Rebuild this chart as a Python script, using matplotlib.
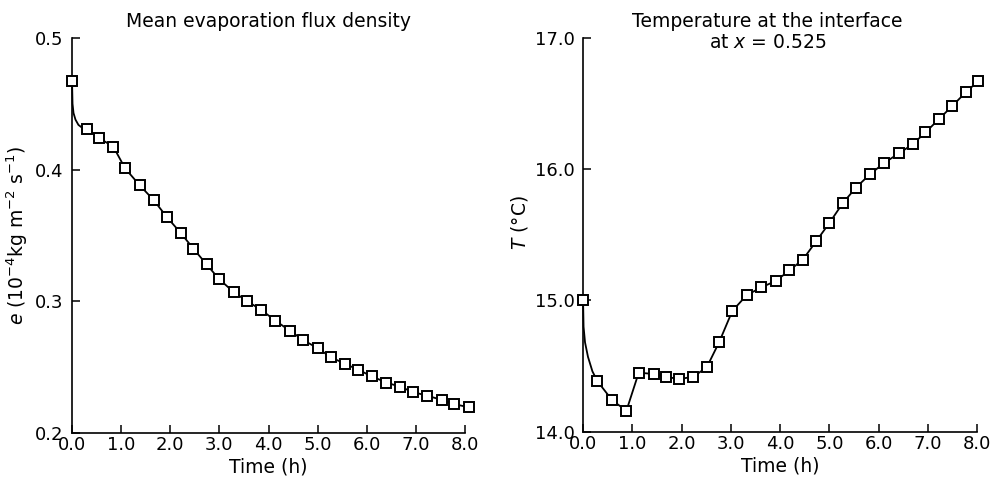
import matplotlib
matplotlib.use('Agg')
import matplotlib.pyplot as plt

plt.rcParams['font.family'] = 'DejaVu Sans'
plt.rcParams['mathtext.fontset'] = 'dejavusans'

# --- datos ---
# marcadores de flujo medio de evaporación
t_e = [0.0, 0.31, 0.55, 0.84, 1.08, 1.38, 1.66, 1.93, 2.21, 2.47, 2.74, 2.99, 3.29, 3.57,
       3.85, 4.14, 4.44, 4.71, 5.00, 5.27, 5.56, 5.83, 6.10, 6.40, 6.67, 6.95, 7.22, 7.53,
       7.78, 8.07]
e_val = [0.467, 0.431, 0.424, 0.4175, 0.401, 0.388, 0.377, 0.364, 0.352, 0.340, 0.328, 0.317,
         0.307, 0.300, 0.2935, 0.2853, 0.2775, 0.2705, 0.2644, 0.2575, 0.2525, 0.248, 0.243,
         0.2383, 0.2352, 0.231, 0.2284, 0.2251, 0.2219, 0.2196]
# tramo inicial de la curva (sin marcadores)
t_e_ini = [0.0, 0.01, 0.03, 0.07, 0.13, 0.2]
e_ini = [0.467, 0.450, 0.443, 0.438, 0.434, 0.432]

# marcadores de temperatura en la interfaz
t_T = [0.0, 0.29, 0.59, 0.88, 1.13, 1.43, 1.68, 1.95, 2.24, 2.51, 2.76, 3.03, 3.32, 3.62,
       3.92, 4.19, 4.46, 4.73, 5.00, 5.27, 5.54, 5.82, 6.12, 6.41, 6.69, 6.95, 7.22, 7.49,
       7.78, 8.02]
T_val = [15.0, 14.386, 14.24, 14.16, 14.45, 14.44, 14.42, 14.40, 14.42, 14.49, 14.68, 14.92,
         15.04, 15.10, 15.15, 15.23, 15.31, 15.45, 15.59, 15.74, 15.86, 15.96, 16.05, 16.12,
         16.19, 16.28, 16.38, 16.48, 16.59, 16.67]
t_T_ini = [0.0, 0.01, 0.04, 0.1, 0.19]
T_ini = [15.0, 14.80, 14.68, 14.57, 14.46]

x_ticks = [0, 1, 2, 3, 4, 5, 6, 7, 8]
x_labels = ['0.0', '1.0', '2.0', '3.0', '4.0', '5.0', '6.0', '7.0', '8.0']
e_ticks = [0.2, 0.3, 0.4, 0.5]
e_labels = ['0.2', '0.3', '0.4', '0.5']
T_ticks = [14.0, 15.0, 16.0, 17.0]
T_labels = ['14.0', '15.0', '16.0', '17.0']

FS_TICK = 13
FS = 13.5

def estilo(ax):
    for s in ['top', 'right']:
        ax.spines[s].set_visible(False)
    for s in ['left', 'bottom']:
        ax.spines[s].set_linewidth(1.2)
    ax.tick_params(direction='in', length=6, width=1.1, labelsize=FS_TICK)
    ax.tick_params(axis='x', pad=2)
    ax.tick_params(axis='y', pad=6)
    ax.set_xlim(0, 8.0)
    ax.set_xticks(x_ticks)
    ax.set_xticklabels(x_labels)
    ax.set_xlabel('Time (h)', fontsize=FS, labelpad=3)

def curva(ax, t_ini, y_ini, t, y):
    ax.plot(t_ini + t[1:], y_ini + y[1:], color='black', lw=1.3, zorder=2, clip_on=False)
    ax.plot(t, y, ls='none', marker='s', ms=6.5, mfc='white', mec='black', mew=1.4,
            zorder=3, clip_on=False)

fig = plt.figure(figsize=(9.95, 4.84), dpi=100)
ax1 = fig.add_axes([0.0724, 0.1054, 0.395, 0.8161])
ax2 = fig.add_axes([0.586, 0.108, 0.396, 0.8135])

curva(ax1, t_e_ini, e_ini, t_e, e_val)
estilo(ax1)
ax1.set_ylim(0.2, 0.5)
ax1.set_yticks(e_ticks)
ax1.set_yticklabels(e_labels)
ax1.set_ylabel(r'$e$ (10$^{-4}$kg m$^{-2}$ s$^{-1}$)', fontsize=FS, labelpad=4)
ax1.set_title('Mean evaporation flux density', fontsize=FS, pad=8)

curva(ax2, t_T_ini, T_ini, t_T, T_val)
estilo(ax2)
ax2.set_ylim(14.0, 17.0)
ax2.set_yticks(T_ticks)
ax2.set_yticklabels(T_labels)
ax2.set_ylabel(r'$T$ (°C)', fontsize=FS)
ax2.yaxis.set_label_coords(-0.135, 0.53)
ax2.text(0.468, 1.029, 'Temperature at the interface', transform=ax2.transAxes,
         ha='center', va='baseline', fontsize=FS)
ax2.text(0.468, 0.975, r'at $x$ = 0.525', transform=ax2.transAxes,
         ha='center', va='baseline', fontsize=FS)

fig.savefig('out.png', dpi=100)
